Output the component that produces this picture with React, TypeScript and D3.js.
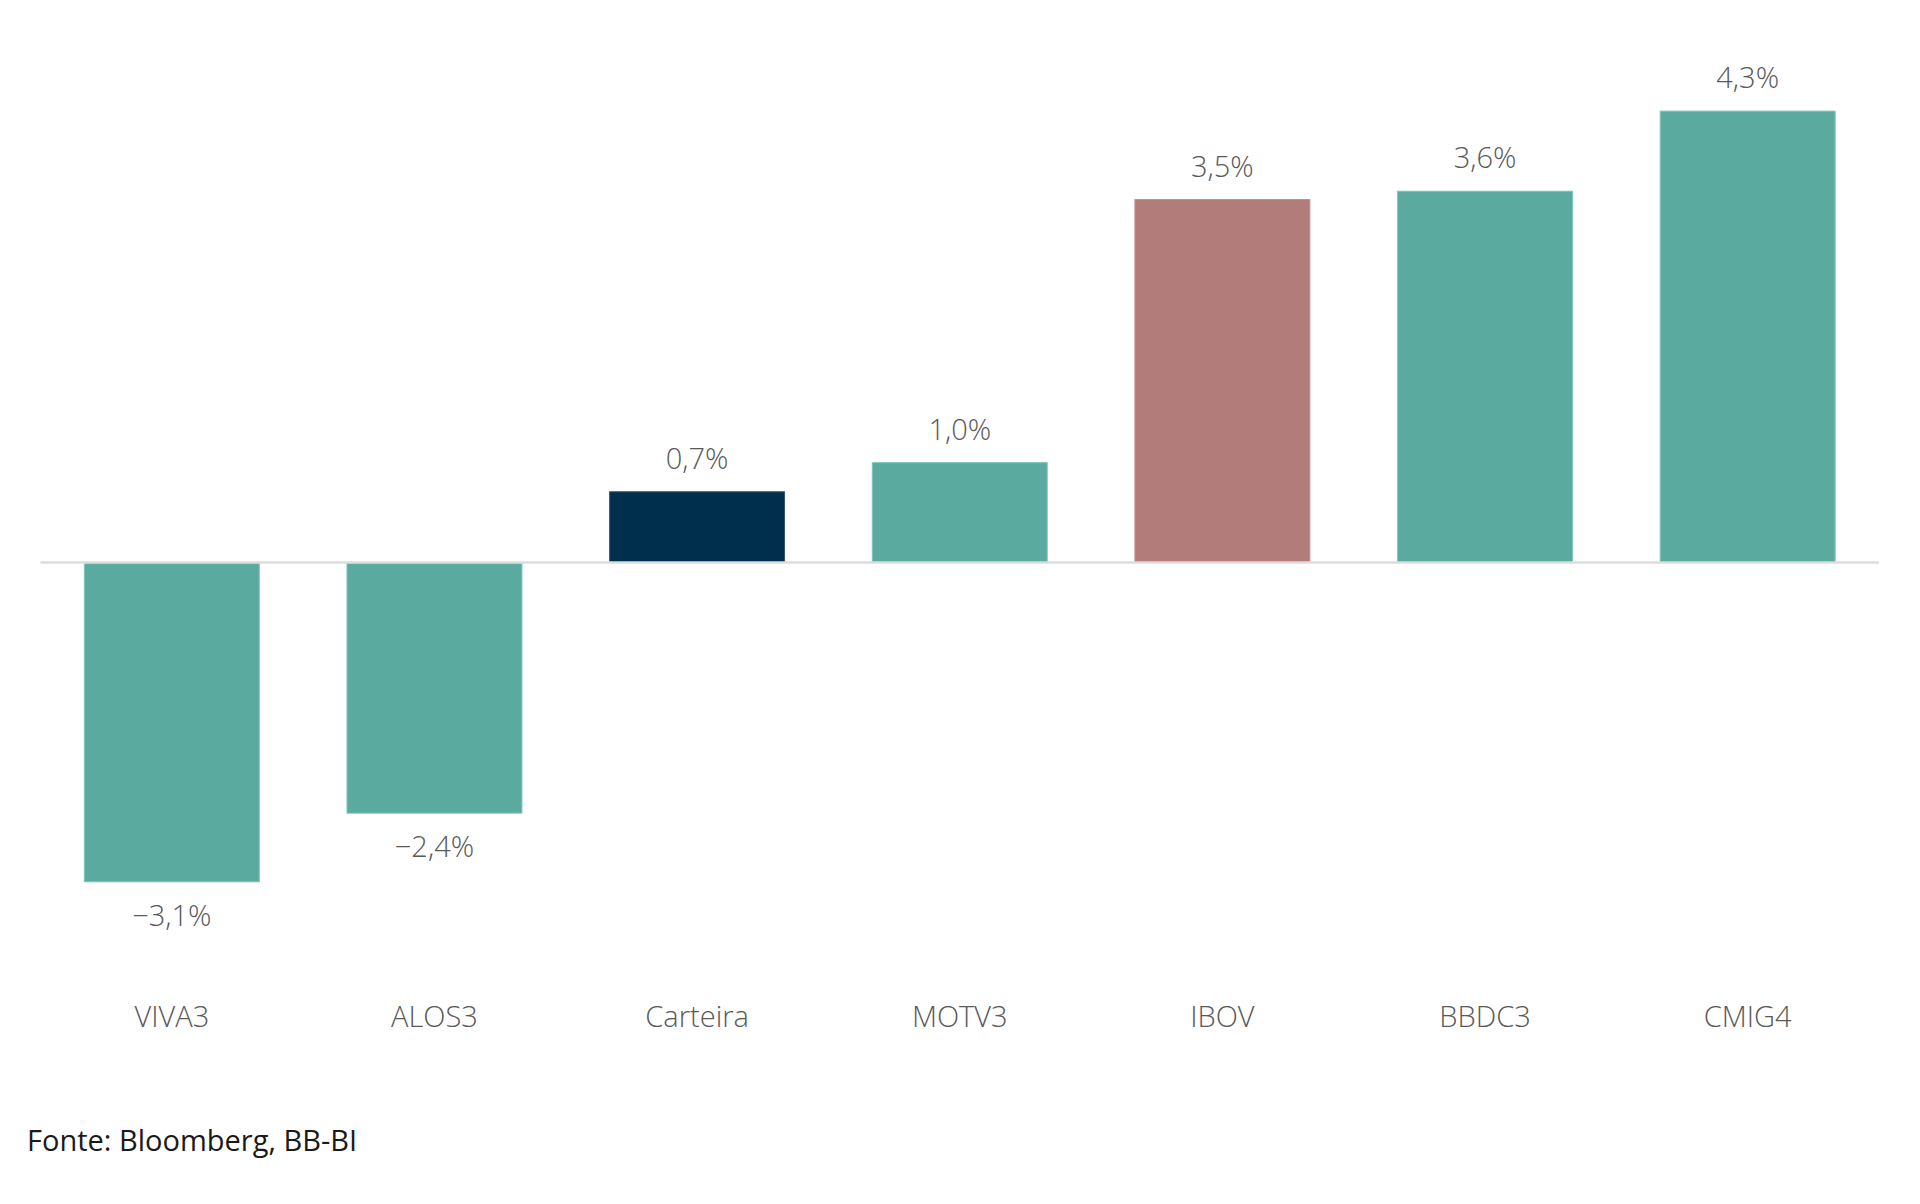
import React, { useEffect, useRef } from 'react';
import * as d3 from 'd3';

// chart data (bar heights; labels round to one decimal)
const categories = ['VIVA3', 'ALOS3', 'Carteira', 'MOTV3', 'IBOV', 'BBDC3', 'CMIG4'];
const returns = [-3.07, -2.41, 0.68, 0.96, 3.49, 3.57, 4.34];
const barColors = ['#5BAAA0', '#5BAAA0', '#002F4D', '#5BAAA0', '#B27C7A', '#5BAAA0', '#5BAAA0'];
const sourceNote = 'Fonte: Bloomberg, BB-BI';

const fmt = (v: number) => `${v.toFixed(1).replace('.', ',').replace('-', '\u2212')}%`;

const App: React.FC = () => {
  const ref = useRef<SVGSVGElement | null>(null);

  useEffect(() => {
    if (!ref.current) return;
    const svg = d3.select(ref.current);
    svg.selectAll('*').remove();

    const font = '"Open Sans", "Noto Sans", sans-serif';

    const x = d3.scaleBand<string>()
      .domain(categories)
      .range([40.5, 1879])
      .paddingInner(0.334)
      .paddingOuter(0.167);

    // zero sits at ~562px, ~104px per percentage point
    const y = d3.scaleLinear().domain([-4.5, 5]).range([562.5 + 4.5 * 104, 562.5 - 5 * 104]);

    const data = categories.map((c, i) => ({ label: c, value: returns[i], color: barColors[i] }));

    svg.append('g')
      .selectAll('rect')
      .data(data)
      .enter().append('rect')
      .attr('x', d => x(d.label)!)
      .attr('y', d => y(Math.max(0, d.value)))
      .attr('width', x.bandwidth())
      .attr('height', d => Math.abs(y(d.value) - y(0)))
      .attr('fill', d => d.color)
      .attr('stroke', d => d.color === '#5BAAA0' ? '#7CC4B9' : d.color === '#B27C7A' ? '#BE8E8C' : '#33536D')
      .attr('stroke-width', 1);

    // zero line
    svg.append('line')
      .attr('x1', 40.5)
      .attr('x2', 1879)
      .attr('y1', y(0))
      .attr('y2', y(0))
      .attr('stroke', '#DCDCDC')
      .attr('stroke-width', 2.5);

    // value labels
    svg.append('g')
      .selectAll('text')
      .data(data)
      .enter().append('text')
      .attr('x', d => x(d.label)! + x.bandwidth() / 2)
      .attr('y', d => d.value >= 0 ? y(d.value) - 23 : y(d.value) + 44)
      .attr('text-anchor', 'middle')
      .attr('font-family', font)
      .attr('font-weight', 300)
      .attr('font-size', 29)
      .attr('fill', '#595959')
      .text(d => fmt(d.value));

    // category labels
    svg.append('g')
      .selectAll('text')
      .data(categories)
      .enter().append('text')
      .attr('x', d => x(d)! + x.bandwidth() / 2)
      .attr('y', 1027)
      .attr('text-anchor', 'middle')
      .attr('font-family', font)
      .attr('font-weight', 300)
      .attr('font-size', 29)
      .attr('fill', '#595959')
      .text(d => d);

    svg.append('text')
      .attr('x', 27)
      .attr('y', 1151)
      .attr('font-family', font)
      .attr('font-weight', 400)
      .attr('font-size', 29)
      .attr('fill', '#1A1A1A')
      .text(sourceNote);
  }, []);

  return (
    <svg
      ref={ref}
      width={1920}
      height={1204}
      style={{ position: 'absolute', left: 0, top: 0, background: '#FFFFFF' }}
    />
  );
};

export default App;
